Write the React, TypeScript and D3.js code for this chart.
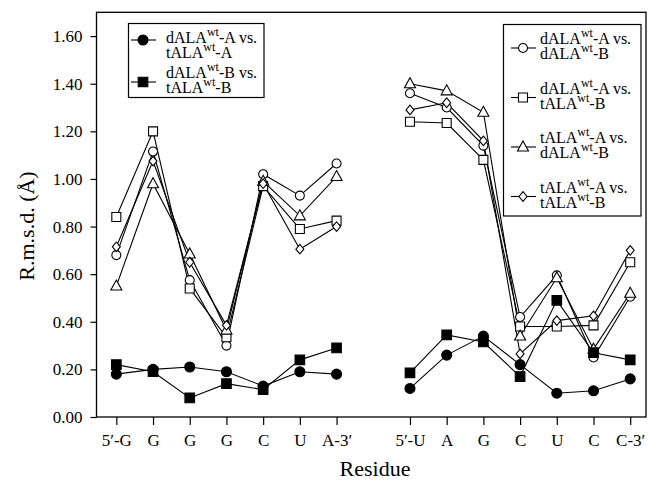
import React, { useEffect, useRef } from "react";
import * as d3 from "d3";

// residues along x; index 7 is the gap between the two strands
const residues = ["5′-G", "G", "G", "G", "C", "U", "A-3′", "", "5′-U", "A", "G", "C", "U", "C", "C-3′"];
const yTicks = [0, 0.2, 0.4, 0.6, 0.8, 1.0, 1.2, 1.4, 1.6];

// r.m.s.d. values (Å), null = gap
const dA_tA = [0.18, 0.2, 0.21, 0.19, 0.13, 0.19, 0.18, null, 0.12, 0.26, 0.34, 0.22, 0.1, 0.11, 0.16];
const dB_tB = [0.22, 0.19, 0.08, 0.14, 0.115, 0.24, 0.29, null, 0.185, 0.345, 0.315, 0.17, 0.49, 0.27, 0.24];
const dA_dB = [0.68, 1.115, 0.575, 0.3, 1.02, 0.93, 1.065, null, 1.36, 1.3, 1.14, 0.42, 0.595, 0.25, 0.505];
const dA_tB = [0.84, 1.2, 0.54, 0.335, 0.97, 0.79, 0.825, null, 1.24, 1.235, 1.08, 0.38, 0.38, 0.385, 0.65];
const tA_dB = [0.55, 0.98, 0.685, 0.365, 0.99, 0.845, 1.01, null, 1.4, 1.37, 1.28, 0.34, 0.585, 0.285, 0.52];
const tA_tB = [0.715, 1.075, 0.65, 0.385, 0.98, 0.705, 0.8, null, 1.29, 1.32, 1.16, 0.265, 0.405, 0.425, 0.7];

type Shape = "circle" | "square" | "triangle" | "diamond";
type Series = { values: (number | null)[]; shape: Shape; filled: boolean; label: string[][] };

const seriesList: Series[] = [
  { values: dA_dB, shape: "circle", filled: false, label: [["dALA", "wt", "-A vs."], ["dALA", "wt", "-B"]] },
  { values: dA_tB, shape: "square", filled: false, label: [["dALA", "wt", "-A vs."], ["tALA", "wt", "-B"]] },
  { values: tA_dB, shape: "triangle", filled: false, label: [["tALA", "wt", "-A vs."], ["dALA", "wt", "-B"]] },
  { values: tA_tB, shape: "diamond", filled: false, label: [["tALA", "wt", "-A vs."], ["tALA", "wt", "-B"]] },
  { values: dA_tA, shape: "circle", filled: true, label: [["dALA", "wt", "-A vs."], ["tALA", "wt", "-A"]] },
  { values: dB_tB, shape: "square", filled: true, label: [["dALA", "wt", "-B vs."], ["tALA", "wt", "-B"]] },
];

const FONT = "'Liberation Serif', 'Times New Roman', serif";

const markerPath = (shape: Shape, filled: boolean) => {
  if (shape === "circle") {
    const r = filled ? 5 : 4.5;
    return `M${-r},0A${r},${r} 0 1,0 ${r},0A${r},${r} 0 1,0 ${-r},0Z`;
  }
  if (shape === "square") {
    const h = filled ? 4.8 : 4.5;
    return `M${-h},${-h}H${h}V${h}H${-h}Z`;
  }
  if (shape === "triangle") return "M0,-6L5.5,4H-5.5Z";
  return "M0,-4.8L4,0L0,4.8L-4,0Z";
};

const App = () => {
  const ref = useRef<SVGSVGElement | null>(null);

  useEffect(() => {
    const width = 649;
    const height = 481;
    const svg = d3.select(ref.current);
    svg.selectAll("*").remove();

    const left = 96.5, right = 646, top = 12.3, bottom = 417;

    const x = d3.scaleLinear().domain([-0.54, 14.43]).range([left, right]);
    const y = d3.scaleLinear().domain([0, 1.7]).range([bottom, top]);

    // frame
    svg
      .append("rect")
      .attr("x", left)
      .attr("y", top)
      .attr("width", right - left)
      .attr("height", bottom - top)
      .attr("fill", "none")
      .attr("stroke", "#000")
      .attr("stroke-width", 1.3);

    // y axis
    const yAxis = svg
      .append("g")
      .attr("transform", `translate(${left},0)`)
      .call(
        d3
          .axisLeft(y)
          .tickValues(yTicks)
          .tickFormat(d3.format(".2f"))
          .tickSize(6)
          .tickSizeOuter(0)
          .tickPadding(8)
      );
    yAxis.select(".domain").remove();
    yAxis.selectAll("line").attr("stroke-width", 1.2);
    yAxis.selectAll("text").attr("font-family", FONT).attr("font-size", 17).attr("fill", "#000");

    // x axis
    const tickIdx = d3.range(residues.length).filter((i) => residues[i] !== "");
    const xAxis = svg
      .append("g")
      .attr("transform", `translate(0,${bottom})`)
      .call(
        d3
          .axisBottom(x)
          .tickValues(tickIdx)
          .tickFormat((d) => residues[d as number])
          .tickSize(8)
          .tickSizeOuter(0)
          .tickPadding(9)
      );
    xAxis.select(".domain").remove();
    xAxis.selectAll("line").attr("stroke-width", 1.2);
    xAxis.selectAll("text").attr("font-family", FONT).attr("font-size", 17).attr("fill", "#000");

    // axis titles
    svg
      .append("text")
      .attr("x", 375)
      .attr("y", 476)
      .attr("text-anchor", "middle")
      .attr("font-family", FONT)
      .attr("font-size", 22)
      .text("Residue");
    svg
      .append("text")
      .attr("transform", "translate(34,226) rotate(-90)")
      .attr("text-anchor", "middle")
      .attr("font-family", FONT)
      .attr("font-size", 22)
      .text("R.m.s.d. (Å)");

    // lines
    const line = d3
      .line<number | null>()
      .defined((d) => d !== null)
      .x((_, i) => x(i))
      .y((d) => y(d as number));

    seriesList.forEach((s) => {
      svg
        .append("path")
        .datum(s.values)
        .attr("d", line)
        .attr("fill", "none")
        .attr("stroke", "#000")
        .attr("stroke-width", 1.1);
    });

    // markers
    seriesList.forEach((s) => {
      svg
        .append("g")
        .selectAll("path")
        .data(s.values.map((v, i) => ({ v, i })).filter((d) => d.v !== null))
        .enter()
        .append("path")
        .attr("transform", (d) => `translate(${x(d.i)},${y(d.v as number)})`)
        .attr("d", markerPath(s.shape, s.filled))
        .attr("fill", s.filled ? "#000" : "#fff")
        .attr("stroke", "#000")
        .attr("stroke-width", 1.1);
    });

    // legends
    const drawLabel = (g: d3.Selection<SVGGElement, unknown, null, undefined>, lines: string[][], tx: number, ys: number[]) => {
      lines.forEach((parts, k) => {
        const t = g
          .append("text")
          .attr("x", tx)
          .attr("y", ys[k])
          .attr("font-family", FONT)
          .attr("font-size", 16)
          .attr("fill", "#000");
        t.append("tspan").text(parts[0]);
        t.append("tspan").attr("dy", -7).attr("font-size", 12).text(parts[1]);
        t.append("tspan").attr("dy", 7).text(parts[2]);
      });
    };

    const drawEntry = (g: d3.Selection<SVGGElement, unknown, null, undefined>, s: Series, mx: number, my: number) => {
      g.append("line")
        .attr("x1", mx - 12)
        .attr("x2", mx + 13)
        .attr("y1", my)
        .attr("y2", my)
        .attr("stroke", "#000")
        .attr("stroke-width", 1.1);
      g.append("path")
        .attr("transform", `translate(${mx},${my})`)
        .attr("d", markerPath(s.shape, s.filled))
        .attr("fill", s.filled ? "#000" : "#fff")
        .attr("stroke", "#000")
        .attr("stroke-width", 1.1);
    };

    const leg1 = svg.append("g");
    leg1
      .append("rect")
      .attr("x", 128.5)
      .attr("y", 23.5)
      .attr("width", 135.5)
      .attr("height", 74)
      .attr("fill", "#fff")
      .attr("stroke", "#000")
      .attr("stroke-width", 1.2);
    const leftSeries = seriesList.filter((s) => s.filled);
    const leg1Pos = [
      { m: 40, ys: [43, 57.5] },
      { m: 82, ys: [77.5, 93] },
    ];
    leftSeries.forEach((s, k) => {
      drawEntry(leg1, s, 143, leg1Pos[k].m);
      drawLabel(leg1, s.label, 166, leg1Pos[k].ys);
    });

    const leg2 = svg.append("g");
    leg2
      .append("rect")
      .attr("x", 503.5)
      .attr("y", 24.5)
      .attr("width", 137.5)
      .attr("height", 191.5)
      .attr("fill", "#fff")
      .attr("stroke", "#000")
      .attr("stroke-width", 1.2);
    const rightSeries = seriesList.filter((s) => !s.filled);
    rightSeries.forEach((s, k) => {
      const off = 49.5 * k;
      drawEntry(leg2, s, 523, 48 + off);
      drawLabel(leg2, s.label, 540, [44 + off, 59 + off]);
    });

    svg.attr("width", width).attr("height", height);
  }, []);

  return (
    <div style={{ position: "absolute", left: 0, top: 0 }}>
      <svg ref={ref} width={649} height={481} style={{ display: "block", background: "#fff" }} />
    </div>
  );
};

export default App;
